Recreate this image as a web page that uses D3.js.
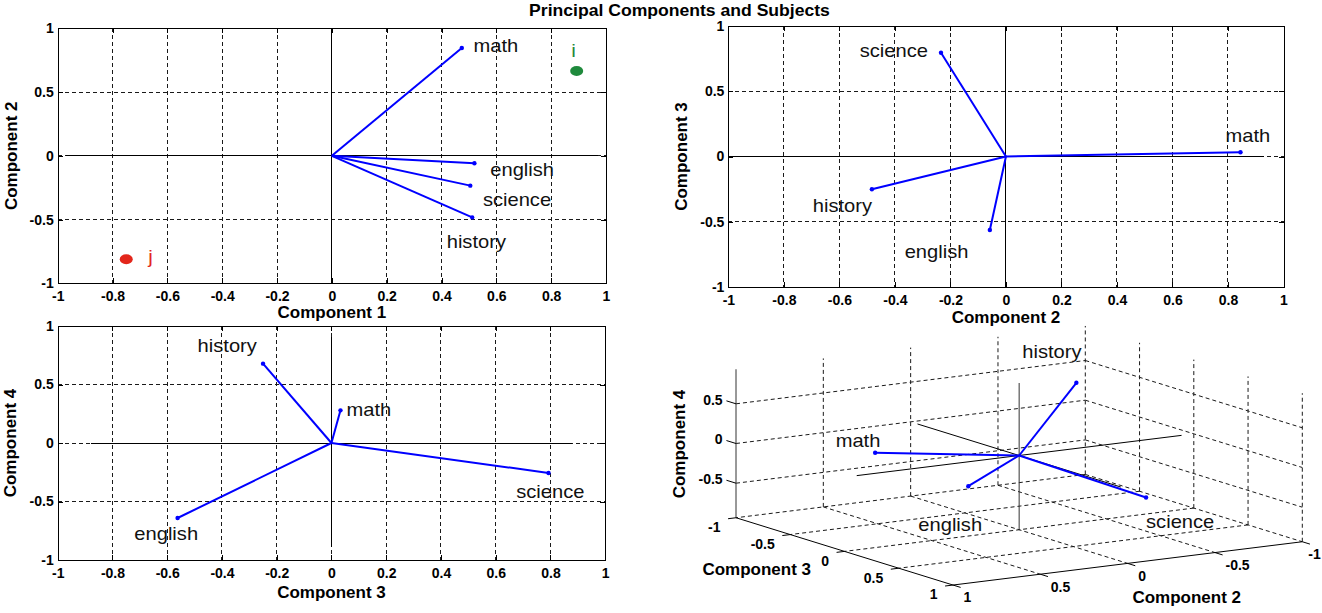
<!DOCTYPE html>
<html>
<head>
<meta charset="utf-8">
<script src="https://cdn.jsdelivr.net/npm/d3@7"></script>
<style>
  body { margin: 0; background: #fff; }
  svg { display: block; }
  text { font-family: "Liberation Sans", Arial, sans-serif; }
</style>
</head>
<body>
<svg id="chart" width="1322" height="613"></svg>
<script>
// ---- loadings of each subject on the four principal components ----
const subjects = ["math", "english", "science", "history"];
const comp1 = [0.474, 0.520, 0.505, 0.512];
const comp2 = [0.845, -0.058, -0.234, -0.483];
const comp3 = [0.033, -0.562, 0.793, -0.250];
const comp4 = [0.279, -0.641, -0.256, 0.678];

// ---- two individual scores shown on components 1 and 2 ----
const scoreNames = ["i", "j"];
const scoreComp1 = [0.893, -0.750];
const scoreComp2 = [0.665, -0.812];
const scoreColors = ["#1f8a3c", "#e3261b"];
const scoreLabelPos = [[0.873, 0.777], [-0.670, -0.840]];

// ---- tick values ----
const xTicks = [-1, -0.8, -0.6, -0.4, -0.2, 0, 0.2, 0.4, 0.6, 0.8, 1];
const yTicks = [-1, -0.5, 0, 0.5, 1];
const boxTicks3d = [-1, -0.5, 0, 0.5, 1];
const zTicks3d = [-0.5, 0, 0.5];

// ---- text anchor positions of subject names (data units) ----
const labels12 = [[0.517, 0.812], [0.578, -0.158], [0.551, -0.394], [0.419, -0.723]];
const labels23 = [[0.791, 0.109], [-0.365, -0.778], [-0.527, 0.759], [-0.696, -0.426]];
const labels34 = [[0.055, 0.227], [-0.720, -0.832], [0.675, -0.470], [-0.489, 0.774]];
const labels234 = [[1.071, 0.033, 0.409], [0.228, -0.562, -1.123], [-0.234, 0.793, -0.645], [-0.173, -0.250, 1.071]];

const svg = d3.select("#chart");
const W = 1322;
const GRID = "#1a1a1a";
const VEC = "#0000ff";
const TXT = "#111";
const labelStretch = 1.15;

svg.append("text")
  .attr("transform", "translate(679.5,16) scale(1.1,1)")
  .attr("text-anchor", "middle")
  .attr("font-size", 16).attr("font-weight", "bold").attr("fill", "#000")
  .text("Principal Components and Subjects");

function stretchedText(g, x, y, str, size, color) {
  g.append("text")
    .attr("transform", `translate(${x},${y}) scale(${labelStretch},1)`)
    .attr("font-size", size).attr("fill", color)
    .text(str);
}

function panel2d(cfg) {
  const x = d3.scaleLinear().domain([-1, 1]).range([cfg.left, cfg.right]);
  const y = d3.scaleLinear().domain([-1, 1]).range([cfg.bottom, cfg.top]);
  const g = svg.append("g");

  // dotted grid
  g.selectAll(null).data(xTicks.filter(t => Math.abs(t) < 1)).join("line")
    .attr("x1", d => x(d)).attr("x2", d => x(d))
    .attr("y1", cfg.top).attr("y2", cfg.bottom)
    .attr("stroke", GRID).attr("stroke-dasharray", "4,3").attr("shape-rendering", "crispEdges");
  g.selectAll(null).data(yTicks.filter(t => Math.abs(t) < 1)).join("line")
    .attr("x1", cfg.left).attr("x2", cfg.right)
    .attr("y1", d => y(d)).attr("y2", d => y(d))
    .attr("stroke", GRID).attr("stroke-dasharray", "4,3").attr("shape-rendering", "crispEdges");

  // frame with inward ticks on all sides
  const bottomAxis = d3.axisBottom(x).tickValues(xTicks).tickSizeInner(-5).tickSizeOuter(0).tickFormat(String);
  const topAxis = d3.axisTop(x).tickValues(xTicks).tickSizeInner(-5).tickSizeOuter(0).tickFormat("");
  const leftAxis = d3.axisLeft(y).tickValues(yTicks).tickSizeInner(-5).tickSizeOuter(0).tickFormat(String);
  const rightAxis = d3.axisRight(y).tickValues(yTicks).tickSizeInner(-5).tickSizeOuter(0).tickFormat("");
  const styleAxis = sel => {
    sel.selectAll("path, line").attr("stroke", "#000").attr("shape-rendering", "crispEdges");
    sel.selectAll("text").attr("font-size", 14).attr("font-weight", "bold")
      .attr("font-family", "'Liberation Sans', Arial, sans-serif").attr("fill", "#000");
  };
  g.append("g").attr("transform", `translate(0,${cfg.bottom})`).call(bottomAxis).call(styleAxis)
    .selectAll("text").attr("y", 8).attr("dy", "0.71em");
  g.append("g").attr("transform", `translate(0,${cfg.top})`).call(topAxis).call(styleAxis);
  g.append("g").attr("transform", `translate(${cfg.left},0)`).call(leftAxis).call(styleAxis)
    .selectAll("text").attr("x", -4);
  g.append("g").attr("transform", `translate(${cfg.right},0)`).call(rightAxis).call(styleAxis);

  // zero axis lines
  g.append("line").attr("x1", x(cfg.hLine[0])).attr("x2", x(cfg.hLine[1]))
    .attr("y1", y(0)).attr("y2", y(0)).attr("stroke", "#000").attr("shape-rendering", "crispEdges");
  g.append("line").attr("x1", x(0)).attr("x2", x(0))
    .attr("y1", y(cfg.vLine[0])).attr("y2", y(cfg.vLine[1])).attr("stroke", "#000").attr("shape-rendering", "crispEdges");

  // loading vectors
  const pts = subjects.map((s, i) => ({ s, a: cfg.xs[i], b: cfg.ys[i], lab: cfg.labels[i] }));
  g.selectAll(null).data(pts).join("line")
    .attr("x1", x(0)).attr("y1", y(0))
    .attr("x2", d => x(d.a)).attr("y2", d => y(d.b))
    .attr("stroke", VEC).attr("stroke-width", 2);
  g.selectAll(null).data(pts).join("circle")
    .attr("cx", d => x(d.a)).attr("cy", d => y(d.b)).attr("r", 2.2).attr("fill", VEC);
  pts.forEach(d => stretchedText(g, x(d.lab[0]), y(d.lab[1]), d.s, 17.5, TXT));

  if (cfg.scores) {
    cfg.scores.forEach((sc, i) => {
      g.append("ellipse").attr("cx", x(sc[0])).attr("cy", y(sc[1]))
        .attr("rx", 6.5).attr("ry", 5).attr("fill", scoreColors[i]);
      stretchedText(g, x(scoreLabelPos[i][0]), y(scoreLabelPos[i][1]), scoreNames[i], 18, scoreColors[i]);
    });
  }

  // axis titles
  g.append("text").attr("x", (cfg.left + cfg.right) / 2).attr("y", cfg.xTitleY)
    .attr("text-anchor", "middle").attr("font-size", 17).attr("font-weight", "bold")
    .text(cfg.xTitle);
  g.append("text").attr("transform", `translate(${cfg.yTitleX},${(cfg.top + cfg.bottom) / 2}) rotate(-90)`)
    .attr("text-anchor", "middle").attr("font-size", 17).attr("font-weight", "bold")
    .text(cfg.yTitle);
}

panel2d({
  left: 57.7, right: 606, top: 28.3, bottom: 283.3,
  xs: comp1, ys: comp2, labels: labels12,
  hLine: [-0.97, 0.97], vLine: [-1, 1],
  scores: scoreComp1.map((v, i) => [v, scoreComp2[i]]),
  xTitle: "Component 1", yTitle: "Component 2", xTitleY: 318.3, yTitleX: 16.5
});
panel2d({
  left: 728.4, right: 1283.5, top: 25.7, bottom: 287.3,
  xs: comp2, ys: comp3, labels: labels23,
  hLine: [-1, 0.93], vLine: [-1, 1],
  xTitle: "Component 2", yTitle: "Component 3", xTitleY: 322.7, yTitleX: 687
});
panel2d({
  left: 57.7, right: 605.2, top: 326, bottom: 560,
  xs: comp3, ys: comp4, labels: labels34,
  hLine: [-0.88, 0.88], vLine: [-0.89, 0.91],
  xTitle: "Component 3", yTitle: "Component 4", xTitleY: 598.3, yTitleX: 16
});

// ---- 3-D view of components 2, 3 and 4 ----
(function panel3d() {
  const g = svg.append("g");
  const zLim = 0.935;
  const origin = [1019.15, 455.5];
  const s2 = d3.scaleLinear().domain([-1, 1]).range([[174.65, -21.65], [-174.65, 21.65]]);
  const s3 = d3.scaleLinear().domain([-1, 1]).range([[-108.5, -33.65], [108.5, 33.65]]);
  const s4 = d3.scaleLinear().domain([-1, 1]).range([[0, 79.4], [0, -79.4]]);
  const P = (a, b, c) => {
    const u = s2(a), v = s3(b), w = s4(c);
    return [origin[0] + u[0] + v[0] + w[0], origin[1] + u[1] + v[1] + w[1]];
  };
  const seg = (p, q, dashed, color, width) => g.append("line")
    .attr("x1", p[0]).attr("y1", p[1]).attr("x2", q[0]).attr("y2", q[1])
    .attr("stroke", color || GRID).attr("stroke-width", width || 1)
    .attr("stroke-dasharray", dashed ? "4,3" : null);

  const inner = boxTicks3d.filter(t => t < 1);
  // floor grid
  inner.forEach(a => seg(P(a, -1, -zLim), P(a, 1, -zLim), true));
  inner.forEach(b => seg(P(-1, b, -zLim), P(1, b, -zLim), true));
  // back-left wall (component 3 = -1)
  inner.forEach(a => seg(P(a, -1, -zLim), P(a, -1, zLim), true));
  zTicks3d.forEach(c => seg(P(1, -1, c), P(-1, -1, c), true));
  // back-right wall (component 2 = -1)
  boxTicks3d.filter(t => t > -1).forEach(b => seg(P(-1, b, -zLim), P(-1, b, zLim), true));
  zTicks3d.forEach(c => seg(P(-1, -1, c), P(-1, 1, c), true));

  // box axes
  seg(P(1, -1, -zLim), P(1, -1, zLim), false, "#333");
  seg(P(1, -1, -zLim), P(1, 1, -zLim), false, "#000");
  seg(P(1, 1, -zLim), P(-1, 1, -zLim), false, "#000");

  const ux = [-0.992, 0.123], vx = [0.955, 0.296];
  const tickFont = sel => sel.attr("font-size", 14).attr("font-weight", "bold").attr("fill", "#000");
  // component 4 ticks
  zTicks3d.forEach(c => {
    const p = P(1, -1, c);
    seg(p, [p[0] - vx[0] * 10, p[1] - vx[1] * 10], false, "#000");
    g.append("text").attr("x", p[0] - vx[0] * 14).attr("y", p[1] - vx[1] * 14)
      .attr("text-anchor", "end").attr("dy", "0.35em").call(tickFont).text(String(c));
  });
  // component 3 ticks
  boxTicks3d.forEach(b => {
    const p = P(1, b, -zLim);
    seg(p, [p[0] + ux[0] * 8, p[1] + ux[1] * 8], false, "#000");
    g.append("text").attr("x", p[0] - 15.5).attr("y", p[1] + 9.5)
      .attr("text-anchor", "end").attr("dy", "0.35em").call(tickFont).text(String(b));
  });
  // component 2 ticks (the last label is kept inside the page edge)
  boxTicks3d.forEach(a => {
    const p = P(a, 1, -zLim);
    seg(p, [p[0] + vx[0] * 8, p[1] + vx[1] * 8], false, "#000");
    const t = g.append("text").attr("x", p[0] + 10.5).attr("y", p[1] + 12.5)
      .attr("text-anchor", "start").attr("dy", "0.35em").call(tickFont).text(String(a));
    const bb = t.node().getBBox();
    if (bb.x + bb.width > W - 1) t.attr("x", W - 1 - bb.width);
  });

  // axis lines through the origin
  seg(P(-0.93, 0, 0), P(0.93, 0, 0), false, "#000");
  seg(P(0, -0.937, 0), P(0, 0.937, 0), false, "#000");
  seg(P(0, 0, -0.937), P(0, 0, 0.913), false, "#333");

  // loading vectors
  subjects.forEach((s, i) => {
    const o = P(0, 0, 0), t = P(comp2[i], comp3[i], comp4[i]);
    seg(o, t, false, VEC, 2);
    g.append("circle").attr("cx", t[0]).attr("cy", t[1]).attr("r", 2.2).attr("fill", VEC);
    const lp = P(labels234[i][0], labels234[i][1], labels234[i][2]);
    stretchedText(g, lp[0], lp[1], s, 17.5, TXT);
  });

  // axis titles
  g.append("text").attr("transform", "translate(685,444) rotate(-90)")
    .attr("text-anchor", "middle").attr("font-size", 17).attr("font-weight", "bold").text("Component 4");
  g.append("text").attr("x", 756.7).attr("y", 575)
    .attr("text-anchor", "middle").attr("font-size", 17).attr("font-weight", "bold").text("Component 3");
  g.append("text").attr("x", 1186.7).attr("y", 603.3)
    .attr("text-anchor", "middle").attr("font-size", 17).attr("font-weight", "bold").text("Component 2");
})();
</script>
</body>
</html>
